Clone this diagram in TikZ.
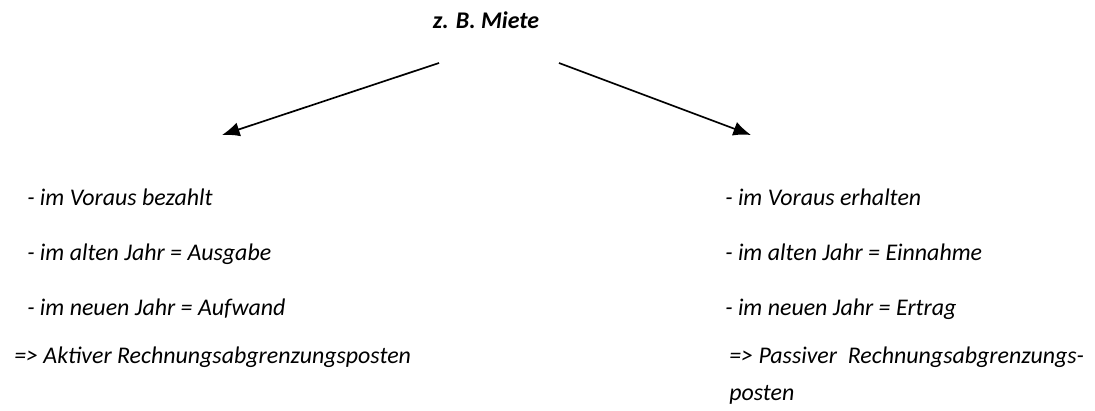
\documentclass[tikz,border=0pt]{standalone}
\usepackage{fontspec}
\setmainfont{Carlito}
\usetikzlibrary{arrows.meta}

\tikzset{
  item/.style={anchor=base west, inner sep=0pt, font=\fontsize{17}{20}\selectfont\itshape},
  headline/.style={anchor=base, inner sep=0pt, font=\fontsize{17}{20}\selectfont\bfseries\itshape},
  branch/.style={-{Latex[length=4.4mm,width=3.6mm]}, line width=1.2pt}
}

\begin{document}
\begin{tikzpicture}[x=0.025cm,y=-0.025cm]
  \useasboundingbox (0,0) rectangle (1095,410);

  \node[headline] (miete) at (486,28) {z. B. Miete};

  % Verzweigung
  \coordinate (lstart) at (439,63);
  \coordinate (lend)   at (222,135);
  \coordinate (rstart) at (559,63);
  \coordinate (rend)   at (751,135);
  \draw[branch] (lstart) -- (lend);
  \draw[branch] (rstart) -- (rend);

  % aktive Seite
  \node[item] (a1) at (27,205) {- im Voraus bezahlt};
  \node[item] (a2) at (27,260) {- im alten Jahr = Ausgabe};
  \node[item] (a3) at (27,315) {- im neuen Jahr = Aufwand};
  \node[item] (a4) at (14,363) {=> Aktiver Rechnungsabgrenzungsposten};

  % passive Seite
  \node[item] (p1) at (725,205) {- im Voraus erhalten};
  \node[item] (p2) at (725,260) {- im alten Jahr = Einnahme};
  \node[item] (p3) at (725,315) {- im neuen Jahr = Ertrag};
  \node[item] (p4) at (729,363) {=> Passiver\ \ Rechnungsabgrenzungs-};
  \node[item] (p5) at (729,400) {posten};
\end{tikzpicture}
\end{document}
